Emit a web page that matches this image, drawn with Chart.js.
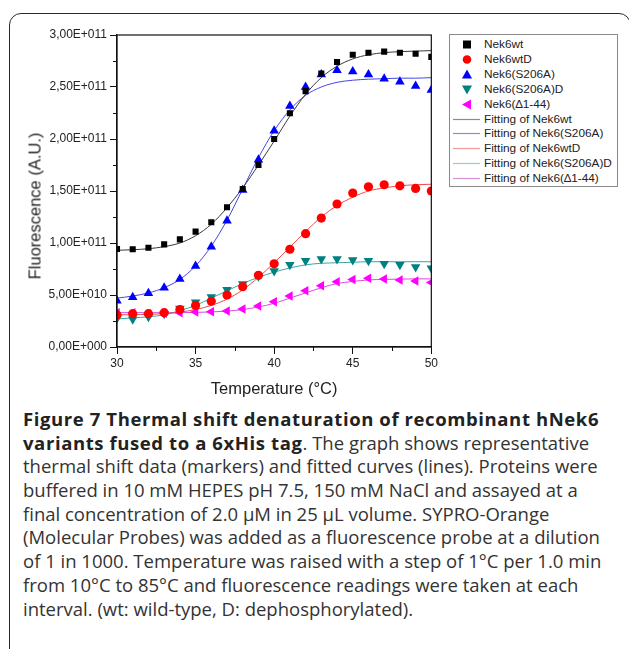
<!DOCTYPE html>
<html>
<head>
<meta charset="utf-8">
<script src="https://cdn.jsdelivr.net/npm/chart.js@4.4.1/dist/chart.umd.min.js"></script>
<style>
  html, body { margin: 0; padding: 0; background: #fff; }
  body { width: 629px; height: 649px; position: relative; overflow: hidden; }
  #frame {
    position: absolute; left: 9px; top: 13px; width: 622px; height: 660px;
    border: 1.5px solid #2a2a2a; border-radius: 12px; box-sizing: border-box;
  }
  #chartBox { position: absolute; left: 0; top: 0; width: 440px; height: 400px; }
  #yTitle {
    position: absolute; left: 35px; top: 206px; transform: translate(-50%, -50%) rotate(-90deg);
    font-family: "Liberation Sans", Arial, sans-serif; font-size: 16.5px; color: #222; white-space: nowrap;
  }
  #legend {
    position: absolute; left: 449px; top: 34px; width: 169px; height: 153px;
    border: 1px solid #8a8a8a; box-sizing: border-box; background: #fff;
    font-family: "Liberation Sans", Arial, sans-serif; font-size: 11.8px; color: #222;
  }
  #legend .row { position: absolute; left: 0; height: 15px; line-height: 15px; white-space: nowrap; }
  #legend svg { position: absolute; left: 3px; top: 0; }
  #legend span { position: absolute; left: 34px; top: 0; }
  #caption {
    position: absolute; left: 23px; top: 407px; width: 610px;
    font-family: "Open Sans", "Noto Sans", sans-serif; font-size: 18.5px; color: #333;
  }
  #caption div { height: 23.7px; line-height: 23.7px; white-space: nowrap; }
  #caption b { color: #222; letter-spacing: 0.6px; }
</style>
</head>
<body>
<div id="frame"></div>
<div id="chartBox"><canvas id="thermal"></canvas></div>
<div id="yTitle">Fluorescence (A.U.)</div>
<div id="legend"></div>
<div id="caption">
  <div><b>Figure 7 Thermal shift denaturation of recombinant hNek6</b></div>
  <div><b>variants fused to a 6xHis tag</b>. The graph shows representative</div>
  <div>thermal shift data (markers) and fitted curves (lines). Proteins were</div>
  <div>buffered in 10 mM HEPES pH 7.5, 150 mM NaCl and assayed at a</div>
  <div>final concentration of 2.0 µM in 25 µL volume. SYPRO-Orange</div>
  <div>(Molecular Probes) was added as a fluorescence probe at a dilution</div>
  <div>of 1 in 1000. Temperature was raised with a step of 1°C per 1.0 min</div>
  <div>from 10°C to 85°C and fluorescence readings were taken at each</div>
  <div>interval. (wt: wild-type, D: dephosphorylated).</div>
</div>
<script>
// Temperatures (°C) of the readings
const temps = [30, 31, 32, 33, 34, 35, 36, 37, 38, 39, 40, 41, 42, 43, 44, 45, 46, 47, 48, 49, 50];

// Measured fluorescence (A.U.)
const nek6wt = [0.942e11, 0.94e11, 0.955e11, 0.987e11, 1.035e11, 1.109e11, 1.20e11, 1.343e11, 1.52e11, 1.75e11, 2.0e11,
  2.247e11, 2.46e11, 2.63e11, 2.74e11, 2.81e11, 2.83e11, 2.84e11, 2.83e11, 2.82e11, 2.79e11];
const nek6wtD = [0.308e11, 0.32e11, 0.32e11, 0.33e11, 0.36e11, 0.40e11, 0.44e11, 0.50e11, 0.58e11, 0.69e11, 0.80e11,
  0.94e11, 1.09e11, 1.24e11, 1.375e11, 1.48e11, 1.54e11, 1.56e11, 1.55e11, 1.525e11, 1.50e11];
const nek6S206A = [0.445e11, 0.478e11, 0.516e11, 0.57e11, 0.654e11, 0.779e11, 0.965e11, 1.215e11, 1.51e11, 1.80e11, 2.08e11,
  2.317e11, 2.50e11, 2.62e11, 2.66e11, 2.65e11, 2.62e11, 2.58e11, 2.55e11, 2.51e11, 2.47e11];
const nek6S206AD = [0.276e11, 0.266e11, 0.29e11, 0.32e11, 0.37e11, 0.43e11, 0.48e11, 0.55e11, 0.605e11, 0.68e11, 0.73e11,
  0.79e11, 0.83e11, 0.846e11, 0.846e11, 0.837e11, 0.83e11, 0.80e11, 0.79e11, 0.77e11, 0.757e11];
const nek6Delta = [0.33e11, 0.33e11, 0.32e11, 0.325e11, 0.33e11, 0.336e11, 0.34e11, 0.346e11, 0.365e11, 0.394e11, 0.436e11,
  0.49e11, 0.54e11, 0.59e11, 0.628e11, 0.65e11, 0.66e11, 0.654e11, 0.644e11, 0.635e11, 0.62e11];

// Fitted curves, read at the same temperatures
const fitWt = [0.93e11, 0.935e11, 0.945e11, 0.965e11, 1.0e11, 1.07e11, 1.18e11, 1.34e11, 1.53e11, 1.75e11, 1.98e11,
  2.22e11, 2.43e11, 2.59e11, 2.70e11, 2.77e11, 2.81e11, 2.83e11, 2.84e11, 2.845e11, 2.85e11];
const fitS206A = [0.47e11, 0.49e11, 0.52e11, 0.57e11, 0.65e11, 0.78e11, 0.97e11, 1.22e11, 1.52e11, 1.82e11, 2.08e11,
  2.28e11, 2.42e11, 2.50e11, 2.545e11, 2.565e11, 2.575e11, 2.58e11, 2.585e11, 2.585e11, 2.59e11];
const fitWtD = [0.31e11, 0.31e11, 0.315e11, 0.32e11, 0.335e11, 0.36e11, 0.40e11, 0.46e11, 0.55e11, 0.67e11, 0.81e11,
  0.96e11, 1.11e11, 1.25e11, 1.36e11, 1.44e11, 1.50e11, 1.53e11, 1.55e11, 1.56e11, 1.565e11];
const fitS206AD = [0.27e11, 0.28e11, 0.29e11, 0.31e11, 0.35e11, 0.40e11, 0.47e11, 0.54e11, 0.61e11, 0.67e11, 0.72e11,
  0.76e11, 0.79e11, 0.805e11, 0.81e11, 0.815e11, 0.82e11, 0.82e11, 0.82e11, 0.82e11, 0.82e11];
const fitDelta = [0.33e11, 0.33e11, 0.33e11, 0.33e11, 0.33e11, 0.333e11, 0.337e11, 0.345e11, 0.36e11, 0.385e11, 0.42e11,
  0.47e11, 0.52e11, 0.57e11, 0.61e11, 0.63e11, 0.645e11, 0.65e11, 0.653e11, 0.655e11, 0.655e11];

const yTicks = [0, 0.5e11, 1.0e11, 1.5e11, 2.0e11, 2.5e11, 3.0e11];
const xTicks = [30, 35, 40, 45, 50];

const FONT = '"Liberation Sans", Arial, sans-serif';

function pts(ys) {
  return temps.map((t, i) => ({ x: t, y: ys[i] }));
}

// "3,00E+011" style labels
function sciLabel(v) {
  const parts = Number(v).toExponential(2).split('e');
  const exp = parseInt(parts[1], 10);
  const sign = exp < 0 ? '-' : '+';
  return parts[0].replace('.', ',') + 'E' + sign + String(Math.abs(exp)).padStart(3, '0');
}

const markerSets = [
  { label: 'Nek6wt', data: nek6wt, color: '#000000', style: 'rect', rot: 0, r: 4.3 },
  { label: 'Nek6wtD', data: nek6wtD, color: '#ff0000', style: 'circle', rot: 0, r: 4.6 },
  { label: 'Nek6(S206A)', data: nek6S206A, color: '#0000ff', style: 'triangle', rot: 0, r: 5.5 },
  { label: 'Nek6(S206A)D', data: nek6S206AD, color: '#008080', style: 'triangle', rot: 180, r: 5.5 },
  { label: 'Nek6(\u22061-44)', data: nek6Delta, color: '#ff00ff', style: 'triangle', rot: -90, r: 5.5 }
];
const fitSets = [
  { label: 'Fitting of Nek6wt', data: fitWt, color: '#3a3a3a', legend: '#8c8c8c' },
  { label: 'Fitting of Nek6(S206A)', data: fitS206A, color: '#4646e6', legend: '#8a8ae0' },
  { label: 'Fitting of Nek6wtD', data: fitWtD, color: '#f04a4a', legend: '#f29a9a' },
  { label: 'Fitting of Nek6(S206A)D', data: fitS206AD, color: '#3aa6a0', legend: '#98ccc8' },
  { label: 'Fitting of Nek6(\u22061-44)', data: fitDelta, color: '#e046e0', legend: '#d890d8' }
];

const datasets = [];
fitSets.forEach(s => datasets.push({
  label: s.label, data: pts(s.data), showLine: true, borderColor: s.color, borderWidth: 1,
  pointRadius: 0, cubicInterpolationMode: 'monotone', clip: 0, order: 2
}));
markerSets.forEach(s => datasets.push({
  label: s.label, data: pts(s.data), showLine: false, pointStyle: s.style, rotation: s.rot,
  pointRadius: s.r, backgroundColor: s.color, borderColor: s.color, borderWidth: 0, clip: 0, order: 1
}));

// frame around plot + minor ticks at midpoints
const plotFrame = {
  id: 'plotFrame',
  afterDraw(chart) {
    const { ctx, chartArea: a, scales } = chart;
    ctx.save();
    ctx.strokeStyle = '#111';
    ctx.lineWidth = 1.2;
    ctx.strokeRect(a.left, a.top, a.right - a.left, a.bottom - a.top);
    ctx.beginPath();
    ctx.lineWidth = 1;
    for (let i = 0; i < xTicks.length - 1; i++) {
      const px = scales.x.getPixelForValue((xTicks[i] + xTicks[i + 1]) / 2);
      ctx.moveTo(Math.round(px) + 0.5, a.bottom);
      ctx.lineTo(Math.round(px) + 0.5, a.bottom + 4);
    }
    for (let i = 0; i < yTicks.length - 1; i++) {
      const py = scales.y.getPixelForValue((yTicks[i] + yTicks[i + 1]) / 2);
      ctx.moveTo(a.left, Math.round(py) + 0.5);
      ctx.lineTo(a.left - 4, Math.round(py) + 0.5);
    }
    ctx.stroke();
    ctx.restore();
  }
};

new Chart(document.getElementById('thermal'), {
  type: 'scatter',
  data: { datasets },
  options: {
    responsive: true,
    maintainAspectRatio: false,
    animation: false,
    layout: { padding: { left: 20, top: 35, right: 8, bottom: 0 } },
    plugins: { legend: { display: false }, tooltip: { enabled: false } },
    scales: {
      x: {
        type: 'linear', min: 30, max: 50,
        afterBuildTicks: s => { s.ticks = xTicks.map(v => ({ value: v })); },
        afterFit: s => { s.height = 400 - 347; },
        border: { color: '#111', width: 1.2 },
        grid: { drawOnChartArea: false, tickLength: 7, color: '#111' },
        ticks: { color: '#222', font: { family: FONT, size: 12 }, padding: 2, maxRotation: 0 },
        title: { display: true, text: 'Temperature (\u00b0C)', color: '#222', font: { family: FONT, size: 16.5 }, padding: { top: 0, bottom: 1 } }
      },
      y: {
        type: 'linear', min: 0, max: 3.0e11,
        afterBuildTicks: s => { s.ticks = yTicks.map(v => ({ value: v })); },
        afterFit: s => { s.width = 117 - 20; },
        border: { color: '#111', width: 1.2 },
        grid: { drawOnChartArea: false, tickLength: 7, color: '#111' },
        ticks: { color: '#222', font: { family: FONT, size: 12 }, padding: 3, callback: v => sciLabel(v) }
      }
    }
  },
  plugins: [plotFrame]
});

// legend box: markers first, then the fitted lines
function symbolSvg(s) {
  const c = s.color;
  let shape;
  if (s.style === 'rect') shape = `<rect x="10" y="3.5" width="8" height="8" fill="${c}"/>`;
  else if (s.style === 'circle') shape = `<circle cx="14" cy="7.5" r="4.3" fill="${c}"/>`;
  else shape = `<polygon points="14,2.5 19,11.5 9,11.5" fill="${c}" transform="rotate(${s.rot} 14 7.5)"/>`;
  return `<svg width="30" height="15">${shape}</svg>`;
}
const legend = document.getElementById('legend');
let rowTop = 2;
markerSets.forEach(s => {
  legend.insertAdjacentHTML('beforeend', `<div class="row" style="top:${rowTop}px">${symbolSvg(s)}<span>${s.label}</span></div>`);
  rowTop += 14.9;
});
fitSets.forEach(s => {
  legend.insertAdjacentHTML('beforeend', `<div class="row" style="top:${rowTop}px"><svg width="30" height="15"><line x1="0" y1="7.5" x2="27" y2="7.5" stroke="${s.legend}" stroke-width="1.2"/></svg><span>${s.label}</span></div>`);
  rowTop += 14.9;
});
</script>
</body>
</html>
